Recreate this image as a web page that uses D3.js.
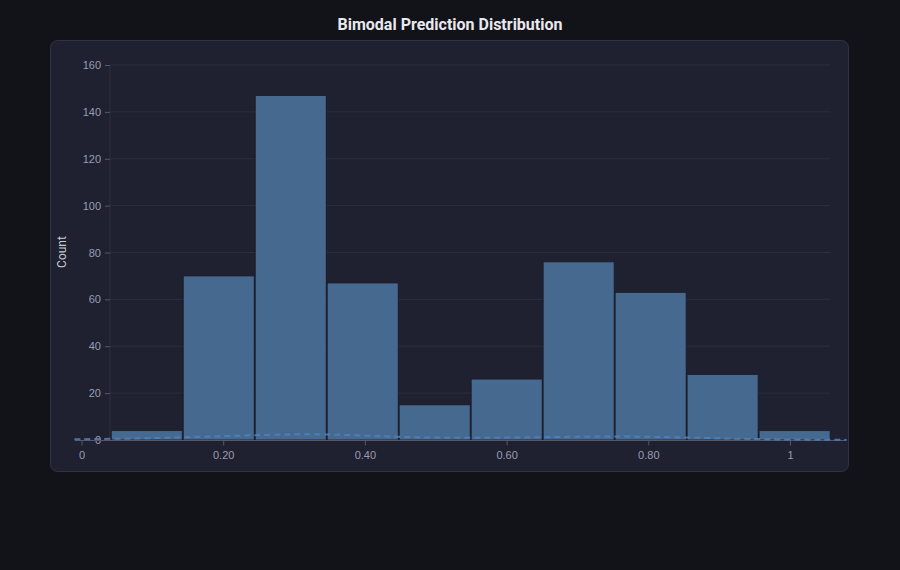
<!DOCTYPE html>
<html><head><meta charset="utf-8">
<script src="https://cdn.jsdelivr.net/npm/d3@7"></script>
<style>body{margin:0;background:#121318;}svg{display:block;font-family:Roboto,"Noto Sans",sans-serif;}</style>
</head><body><svg id="c" width="900" height="570"></svg>
<script>
const binStarts = [0.042,0.1436,0.2452,0.3468,0.4484,0.55,0.6516,0.7532,0.8548,0.9564];
const binWidth = 0.1016;
const counts = [4,70,147,67,15,26,76,63,28,4];
const yTicks = [0,20,40,60,80,100,120,140,160];
const xTicks = [0,0.2,0.4,0.6,0.8,1];
const xTickLabels = ["0","0.20","0.40","0.60","0.80","1"];
const densX = [-0.01,0.05,0.1,0.15,0.2,0.25,0.3,0.35,0.4,0.45,0.5,0.55,0.6,0.65,0.7,0.75,0.8,0.85,0.9,0.95,1.0,1.05,1.08];
const densY = [0.3,0.5,0.8,1.2,1.6,2.1,2.5,2.4,1.9,1.3,1.0,0.9,1.0,1.2,1.4,1.5,1.4,1.1,0.7,0.4,0.2,0.1,0.05];

const svg = d3.select("#c");
svg.append("text").attr("x",450).attr("y",30).attr("text-anchor","middle")
  .attr("fill","#e8e8ee").attr("font-size",16).attr("font-weight","bold").text("Bimodal Prediction Distribution");
svg.append("rect").attr("x",50.5).attr("y",40.5).attr("width",798).attr("height",431).attr("rx",7)
  .attr("fill","#1f2030").attr("stroke","#30324a");

const x = d3.scaleLinear().domain([0,1]).range([81.5,790]);
const y = d3.scaleLinear().domain([0,160]).range([440,65]);

const g = svg.append("g");
yTicks.forEach(t=>{
  g.append("line").attr("x1",110).attr("x2",830).attr("y1",y(t)).attr("y2",y(t)).attr("stroke","#2c2e40");
});
g.append("line").attr("x1",110).attr("x2",110).attr("y1",65).attr("y2",440).attr("stroke","#2c2e40");
const ya = d3.axisLeft(y).tickValues(yTicks).tickSize(5).tickPadding(4);
const yg = g.append("g").attr("transform","translate(110,0)").call(ya);
yg.select(".domain").remove();
yg.selectAll("line").attr("stroke","#55586a");
yg.selectAll("text").attr("fill","#9a9db0").attr("font-size",11);

g.selectAll("rect.bar").data(counts).enter().append("rect").attr("class","bar")
  .attr("x",(d,i)=>x(binStarts[i]))
  .attr("width",(d,i)=>x(binStarts[i]+binWidth)-x(binStarts[i])-1)
  .attr("y",d=>y(d)).attr("height",d=>y(0)-y(d))
  .attr("fill","#46698f").attr("stroke","#1a1b26").attr("stroke-width",0.8);

g.append("line").attr("x1",75).attr("x2",845).attr("y1",440.5).attr("y2",440.5).attr("stroke","#55586a");
const xa = d3.axisBottom(x).tickValues(xTicks).tickFormat((d,i)=>xTickLabels[i]).tickSize(5).tickPadding(6);
const xg = g.append("g").attr("transform","translate(0,440.5)").call(xa);
xg.select(".domain").remove();
xg.selectAll("line").attr("stroke","#55586a");
xg.selectAll("text").attr("fill","#9a9db0").attr("font-size",11);

const line = d3.line().x((d,i)=>x(densX[i])).y(d=>y(d)).curve(d3.curveBasis);
g.append("path").datum(densY).attr("d",line).attr("fill","none")
  .attr("stroke","#4f82bf").attr("stroke-width",2).attr("stroke-dasharray","6,4").attr("opacity",0.85);

svg.append("text").attr("transform","translate(66,252) rotate(-90)").attr("text-anchor","middle")
  .attr("fill","#c8cad6").attr("font-size",12).text("Count");
</script></body></html>
